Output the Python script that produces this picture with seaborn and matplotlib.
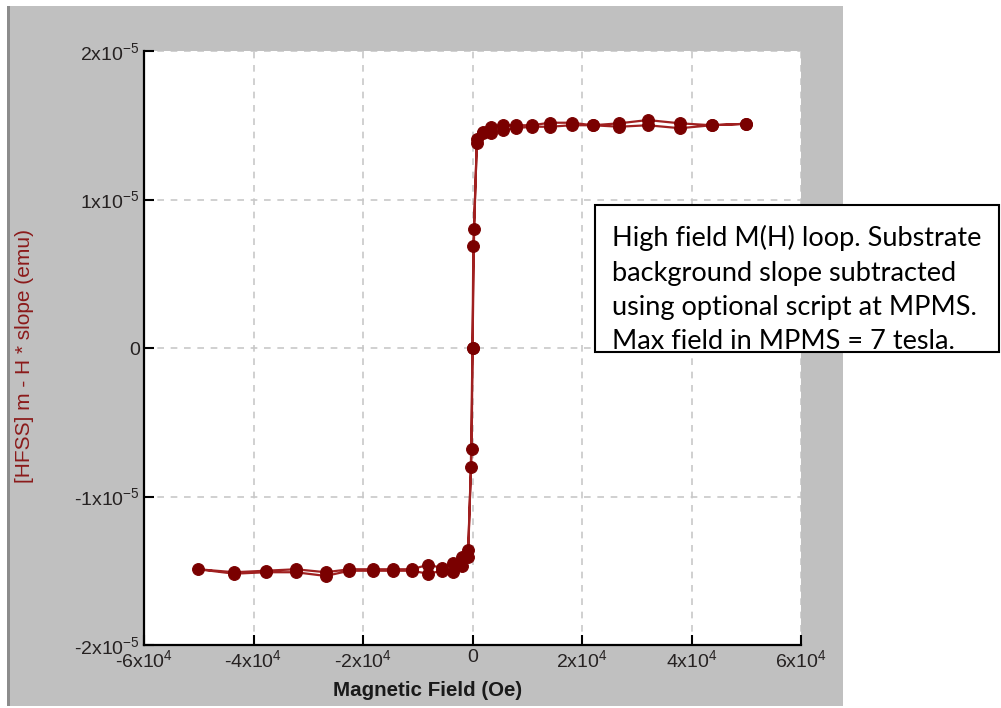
import numpy as np
import pandas as pd
import seaborn as sns
import matplotlib.pyplot as plt
from matplotlib.patches import Rectangle

# descending branch, +5 T -> -5 T (field in Oe, moment in 1e-5 emu)
h_down = [50000, 43700, 37900, 32000, 26800, 22000, 18100, 14200, 10800, 7900, 5600,
          3300, 1900, 800, 300, 0, -150, -800, -1900, -3500, -5600, -8100, -11100,
          -14500, -18100, -22500, -26800, -32300, -37800, -43500, -50100]
m_down = [1.51, 1.50, 1.513, 1.535, 1.513, 1.50, 1.517, 1.517, 1.50, 1.50, 1.50,
          1.49, 1.455, 1.41, 0.80, 0.0, -0.68, -1.36, -1.41, -1.448, -1.48, -1.46, -1.49,
          -1.49, -1.49, -1.49, -1.51, -1.49, -1.50, -1.51, -1.49]
# ascending branch back up
h_up = [-43500, -37800, -32300, -26800, -22500, -18100, -14500, -11100, -8100, -5600,
        -3500, -1900, -800, -300, 0, 150, 800, 1900, 3300, 5600, 7900, 10800, 14200,
        18100, 22000, 26800, 32000, 37900, 43700, 50000]
m_up = [-1.52, -1.51, -1.51, -1.535, -1.50, -1.50, -1.50, -1.50, -1.52, -1.50,
        -1.508, -1.47, -1.405, -0.80, 0.0, 0.69, 1.38, 1.445, 1.445, 1.467, 1.48, 1.49,
        1.49, 1.50, 1.50, 1.49, 1.50, 1.48, 1.50, 1.51]

xticks = [-60000, -40000, -20000, 0, 20000, 40000, 60000]
xtick_labels = ['-6x10$^4$', '-4x10$^4$', '-2x10$^4$', '0', '2x10$^4$', '4x10$^4$', '6x10$^4$']
yticks = [-2e-5, -1e-5, 0, 1e-5, 2e-5]
ytick_labels = ['-2x10$^{-5}$', '-1x10$^{-5}$', '0', '1x10$^{-5}$', '2x10$^{-5}$']

note = ("High field M(H) loop. Substrate\n"
        "background slope subtracted\n"
        "using optional script at MPMS.\n"
        "Max field in MPMS = 7 tesla.")

df = pd.DataFrame({
    'field': h_down + h_up,
    'moment': np.array(m_down + m_up) * 1e-5,
})

sns.set_style('ticks')
plt.rcParams['font.family'] = ['Liberation Sans', 'DejaVu Sans']
plt.rcParams['mathtext.default'] = 'regular'

fig = plt.figure(figsize=(10.01, 7.08), dpi=100, facecolor='white')
W, H = 1001, 708
# grey panel behind the plot
fig.patches.append(Rectangle((7 / W, 2 / H), 836 / W, 700 / H, transform=fig.transFigure,
                             facecolor='#c0c0c0', edgecolor='none', zorder=-2))
fig.patches.append(Rectangle((7 / W, 2 / H), 3 / W, 700 / H, transform=fig.transFigure,
                             facecolor='#8c8c8c', edgecolor='none', zorder=-1))

ax = fig.add_axes([144 / W, (708 - 645) / H, 657 / W, 594 / H])
ax.set_zorder(1)
ax.set_facecolor('white')

sns.lineplot(data=df, x='field', y='moment', sort=False, estimator=None, ax=ax,
             color='#a02020', linewidth=1.6, marker='o', markersize=8.5,
             markerfacecolor='#7a0000', markeredgecolor='#7a0000', zorder=3)

ax.set_xlim(-60000, 60000)
ax.set_ylim(-2e-5, 2e-5)
ax.set_xticks(xticks)
ax.set_xticklabels(xtick_labels)
ax.set_yticks(yticks)
ax.set_yticklabels(ytick_labels)
ax.tick_params(direction='in', length=7, width=1.5, color='black', labelsize=14,
               labelcolor='#262222', pad=3)
ax.grid(True, linestyle=(0, (4, 4)), color='#c8c8c8', linewidth=1.2)
ax.set_axisbelow(True)
for side in ['top', 'right']:
    ax.spines[side].set_visible(False)
for side in ['left', 'bottom']:
    ax.spines[side].set_linewidth(1.6)
    ax.spines[side].set_color('black')

ax.set_xlabel('Magnetic Field (Oe)', fontsize=14.8, fontweight='bold', color='#1a1a1a')
ax.xaxis.set_label_coords((428 - 144) / 657, -(690 - 645) / 594)
ax.xaxis.label.set_va('center')
ax.set_ylabel('[HFSS] m - H * slope (emu)', fontsize=15, color='#8b1a1a')
ax.yaxis.set_label_coords(-(144 - 25) / 657, (645 - 356) / 594)
ax.yaxis.label.set_va('center')

# annotation box on the right, above the axes
box = Rectangle((595 / W, (708 - 352) / H), 404 / W, 147 / H, transform=fig.transFigure,
                facecolor='white', edgecolor='black', linewidth=1.5, zorder=5)
fig.patches.append(box)
fig.text(612 / W, (708 - 225) / H, note, fontsize=19.5, family=['Lato', 'DejaVu Sans'],
         va='top', ha='left', linespacing=1.47, color='black', zorder=6)

fig.savefig('out.png', dpi=100, facecolor='white')
